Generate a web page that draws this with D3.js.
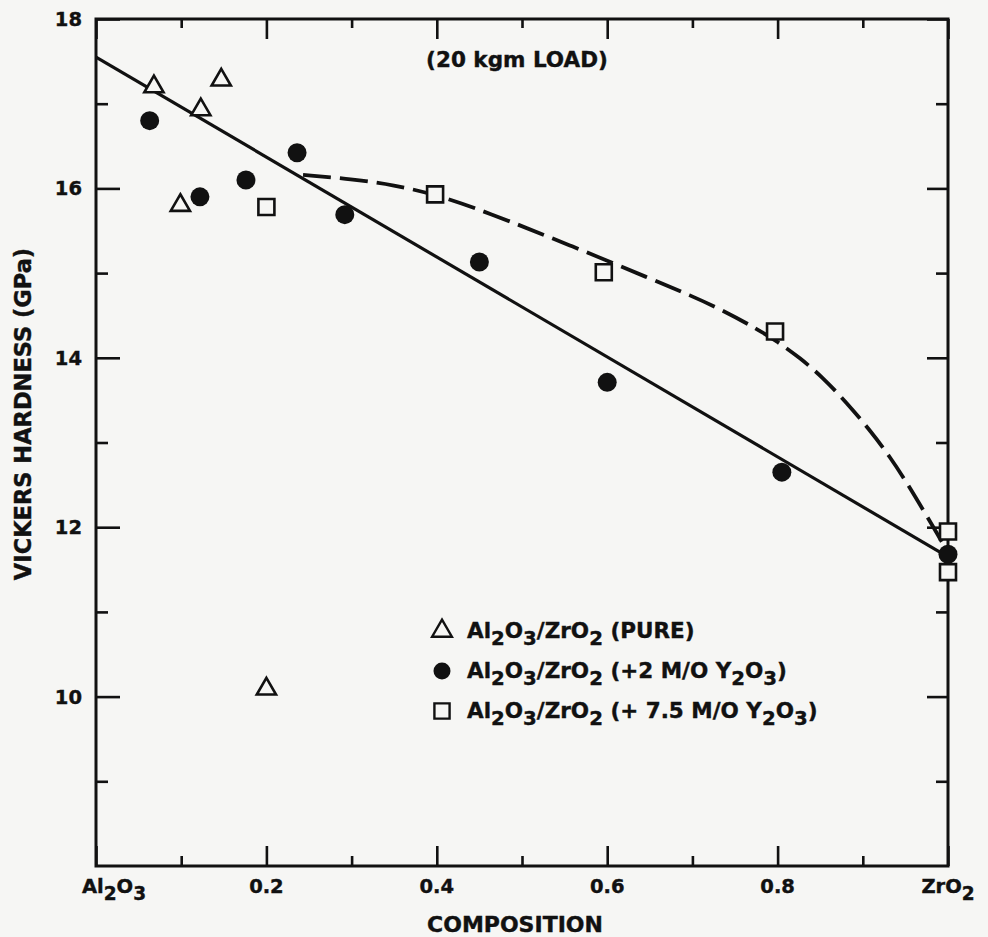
<!DOCTYPE html>
<html><head><meta charset="utf-8">
<script src="https://cdn.jsdelivr.net/npm/d3@7"></script>
<style>body{margin:0;background:#f6f6f4}</style>
</head><body><svg id="c" width="988" height="937"></svg>
<script>
// ---- data ----
const triX=[0.068,0.123,0.147,0.099,0.200];
const triY=[17.20,16.93,17.28,15.80,10.09];
const dotX=[0.063,0.122,0.176,0.236,0.292,0.450,0.600,0.805,1.000];
const dotY=[16.80,15.90,16.10,16.42,15.69,15.13,13.71,12.65,11.68];
const sqX=[0.200,0.398,0.596,0.797,1.000,1.000];
const sqY=[15.78,15.93,15.01,14.31,11.95,11.47];
const fitX=[0,1];
const fitY=[17.55,11.65];
const dashX=[0.243,0.300,0.350,0.398,0.459,0.556,0.654,0.697,0.736,0.776,0.800,0.826,0.853,0.881,0.908,0.932,0.952,0.971,0.987,1.000];
const dashY=[16.16,16.11,16.04,15.93,15.72,15.33,14.92,14.74,14.56,14.34,14.19,14.00,13.77,13.47,13.15,12.83,12.52,12.20,11.93,11.70];
const xMajor=[0,0.2,0.4,0.6,0.8,1];
const xMinor=[0.1,0.3,0.5,0.7,0.9];
const xLabels=["Al_2O_3","0.2","0.4","0.6","0.8","ZrO_2"];
const yMajor=[10,12,14,16,18];
const yMinor=[9,11,13,15,17];
const yLabels=["10","12","14","16","18"];
const legendLabels=["Al_2O_3/ZrO_2 (PURE)","Al_2O_3/ZrO_2 (+2 M/O Y_2O_3)","Al_2O_3/ZrO_2 (+ 7.5 M/O Y_2O_3)"];
const titleText="(20 kgm LOAD)";
const xTitle="COMPOSITION";
const yTitle="VICKERS HARDNESS (GPa)";

// ---- setup ----
const ink="#111", bg="#f6f6f4", FONT="'DejaVu Sans', sans-serif";
const svg=d3.select("#c");
svg.append("rect").attr("width",988).attr("height",937).attr("fill",bg);
const x=d3.scaleLinear().domain([0,1]).range([96,948]);
const y=d3.scaleLinear().domain([8,18]).range([866,19]);

function rich(t,str,shift,subScale){
  const parts=str.split(/_(\d)/);
  parts.forEach((p,i)=>{
    if(!p) return;
    const ts=t.append("tspan").text(p);
    if(i%2===1){ts.attr("dy",shift).attr("font-size",(subScale*100)+"%");}
    else if(i>0){ts.attr("dy",-shift);}
  });
}

// ---- axes ticks ----
function styleAxis(g){g.select(".domain").remove();g.selectAll("line").attr("stroke",ink).attr("stroke-width",2.6);}
svg.append("g").attr("transform","translate(0,866)").call(d3.axisBottom(x).tickValues(xMajor).tickSize(-20).tickSizeOuter(0).tickFormat("")).call(styleAxis);
svg.append("g").attr("transform","translate(0,866)").call(d3.axisBottom(x).tickValues(xMinor).tickSize(-10).tickSizeOuter(0).tickFormat("")).call(styleAxis);
svg.append("g").attr("transform","translate(0,19)").call(d3.axisTop(x).tickValues(xMajor).tickSize(-20).tickSizeOuter(0).tickFormat("")).call(styleAxis);
svg.append("g").attr("transform","translate(0,19)").call(d3.axisTop(x).tickValues(xMinor).tickSize(-9).tickSizeOuter(0).tickFormat("")).call(styleAxis);
svg.append("g").attr("transform","translate(96,0)").call(d3.axisLeft(y).tickValues(yMajor).tickSize(-24).tickSizeOuter(0).tickFormat("")).call(styleAxis);
svg.append("g").attr("transform","translate(96,0)").call(d3.axisLeft(y).tickValues(yMinor).tickSize(-12).tickSizeOuter(0).tickFormat("")).call(styleAxis);
svg.append("g").attr("transform","translate(948,0)").call(d3.axisRight(y).tickValues(yMajor).tickSize(-21).tickSizeOuter(0).tickFormat("")).call(styleAxis);
svg.append("g").attr("transform","translate(948,0)").call(d3.axisRight(y).tickValues(yMinor).tickSize(-12).tickSizeOuter(0).tickFormat("")).call(styleAxis);
svg.append("rect").attr("x",x(0)).attr("y",y(18)).attr("width",x(1)-x(0)).attr("height",y(8)-y(18))
  .attr("fill","none").attr("stroke",ink).attr("stroke-width",3);

// ---- tick labels ----
const txt=(sx,sy,size)=>svg.append("text").attr("x",sx).attr("y",sy).attr("font-family",FONT)
  .attr("font-weight","bold").attr("font-size",size).attr("fill",ink)
  .attr("stroke",ink).attr("stroke-width",0.4);
yMajor.forEach((v,i)=>{txt(82,y(v)+7,19.5).attr("text-anchor","end").text(yLabels[i]);});
xMajor.forEach((v,i)=>{
  const t=txt(x(v)+(i===0?18:0),893,19.5).attr("text-anchor","middle");
  rich(t,xLabels[i],7,0.95);
});
txt(517,67,21.5).attr("text-anchor","middle").text(titleText);
txt(515,932,22).attr("text-anchor","middle").text(xTitle);
svg.append("text").attr("transform","translate(31,414) rotate(-90)").attr("text-anchor","middle")
  .attr("font-family",FONT).attr("font-weight","bold").attr("font-size",22.5).attr("fill",ink)
  .attr("stroke",ink).attr("stroke-width",0.4).text(yTitle);

// ---- lines ----
const fit=fitX.map((v,i)=>[v,fitY[i]]);
const dash=dashX.map((v,i)=>[v,dashY[i]]);
svg.append("path").attr("d",d3.line().x(d=>x(d[0])).y(d=>y(d[1]))(fit))
  .attr("fill","none").attr("stroke",ink).attr("stroke-width",3.2);
svg.append("path").attr("d",d3.line().x(d=>x(d[0])).y(d=>y(d[1])).curve(d3.curveBasis)(dash))
  .attr("fill","none").attr("stroke",ink).attr("stroke-width",3.8).attr("stroke-dasharray","28,9");

// ---- markers ----
const tri=d3.symbol().type(d3.symbolTriangle).size(160);
const sq=d3.symbol().type(d3.symbolSquare).size(256);
svg.append("g").selectAll("path").data(sqX.map((v,i)=>[v,sqY[i]])).join("path")
  .attr("d",sq).attr("transform",d=>`translate(${x(d[0])},${y(d[1])})`)
  .attr("fill",bg).attr("stroke",ink).attr("stroke-width",2.6);
svg.append("g").selectAll("path").data(triX.map((v,i)=>[v,triY[i]])).join("path")
  .attr("d",tri).attr("transform",d=>`translate(${x(d[0])},${y(d[1])})`)
  .attr("fill",bg).attr("stroke",ink).attr("stroke-width",2.6);
svg.append("g").selectAll("circle").data(dotX.map((v,i)=>[v,dotY[i]])).join("circle")
  .attr("cx",d=>x(d[0])).attr("cy",d=>y(d[1])).attr("r",9.5).attr("fill",ink);

// ---- legend ----
const lgY=[638,678,718];
const lg=svg.append("g");
lg.append("path").attr("d",d3.symbol().type(d3.symbolTriangle).size(170)()).attr("transform",`translate(442,${lgY[0]-7})`)
  .attr("fill",bg).attr("stroke",ink).attr("stroke-width",2.4);
lg.append("circle").attr("cx",442).attr("cy",lgY[1]-7).attr("r",8.5).attr("fill",ink);
lg.append("path").attr("d",d3.symbol().type(d3.symbolSquare).size(230)()).attr("transform",`translate(442,${lgY[2]-7})`)
  .attr("fill",bg).attr("stroke",ink).attr("stroke-width",2.4);
legendLabels.forEach((s,i)=>{const t=txt(467,lgY[i],21.5);rich(t,s,7,0.92);});
</script></body></html>
